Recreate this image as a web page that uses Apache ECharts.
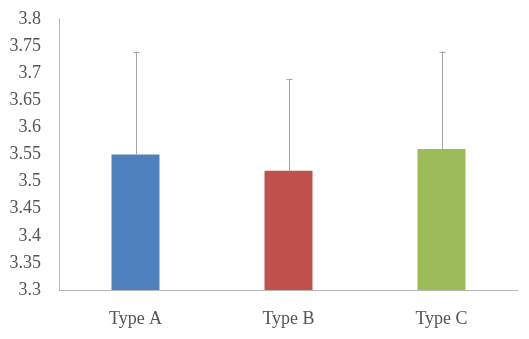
<!DOCTYPE html>
<html>
<head>
<meta charset="utf-8">
<script src="https://cdn.jsdelivr.net/npm/echarts@6/dist/echarts.min.js"></script>
<style>
  html, body { margin: 0; padding: 0; background: #fff; }
  #chart { width: 529px; height: 339px; }
</style>
</head>
<body>
<div id="chart"></div>
<script>
// Mean scores per type, with the upper error amount for each
const categories = ['Type A', 'Type B', 'Type C'];
const means = [3.55, 3.52, 3.56];
const errors = [0.19, 0.17, 0.18];
const barColors = ['#4F81BD', '#C0504D', '#9BBB59'];
const yTicks = { min: 3.3, max: 3.8, interval: 0.05 };

const fontFamily = '"Liberation Serif", "DejaVu Serif", serif';

const chart = echarts.init(document.getElementById('chart'), null, { renderer: 'canvas' });

chart.setOption({
  animation: false,
  backgroundColor: '#ffffff',
  grid: { left: 59, right: 11, top: 19, bottom: 49 },
  xAxis: {
    type: 'category',
    data: categories,
    axisLine: { show: true, lineStyle: { color: '#b8b8b8', width: 1 } },
    axisTick: { show: false },
    axisLabel: { color: '#555555', fontFamily: fontFamily, fontSize: 18, margin: 20 }
  },
  yAxis: {
    type: 'value',
    min: yTicks.min,
    max: yTicks.max,
    interval: yTicks.interval,
    axisLine: { show: true, lineStyle: { color: '#b8b8b8', width: 1 } },
    axisTick: { show: false },
    splitLine: { show: false },
    axisLabel: {
      color: '#555555', fontFamily: fontFamily, fontSize: 18, margin: 18,
      formatter: v => String(parseFloat(v.toFixed(2)))
    }
  },
  series: [
    {
      type: 'bar',
      barWidth: 48,
      data: means.map((v, i) => ({ value: v, itemStyle: { color: barColors[i] } }))
    },
    {
      // upper error whiskers with small caps
      type: 'custom',
      z: 5,
      data: means.map((v, i) => [i, v, v + errors[i]]),
      renderItem: (params, api) => {
        const base = api.coord([api.value(0), api.value(1)]);
        const top = api.coord([api.value(0), api.value(2)]);
        const x = Math.round(base[0]) + 0.5;
        const capHalf = 3;
        const style = { stroke: '#a6a6a6', lineWidth: 1 };
        return {
          type: 'group',
          children: [
            { type: 'line', shape: { x1: x, y1: base[1], x2: x, y2: top[1] }, style },
            { type: 'line', shape: { x1: x - capHalf, y1: Math.round(top[1]) + 0.5, x2: x + capHalf, y2: Math.round(top[1]) + 0.5 }, style }
          ]
        };
      }
    }
  ]
});
</script>
</body>
</html>
